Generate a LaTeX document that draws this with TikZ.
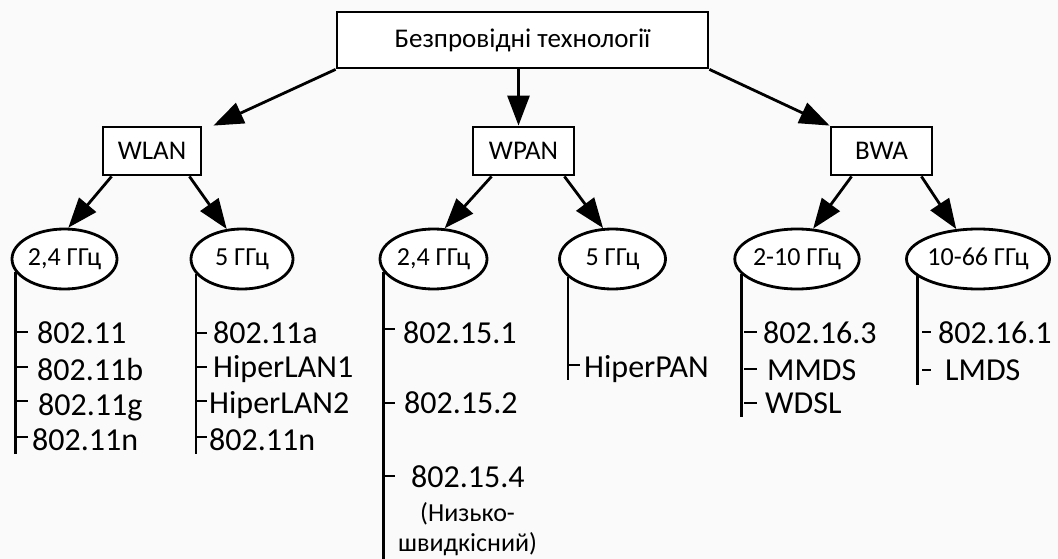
\documentclass[tikz,border=0pt]{standalone}
\usepackage{fontspec}
\setmainfont{Carlito}
\usetikzlibrary{arrows.meta,shapes.geometric}
\definecolor{bg}{RGB}{250,250,250}
\begin{document}
\begin{tikzpicture}[x=1pt,y=-1pt,
  every node/.style={inner sep=0pt},
  box/.style={draw, rectangle, fill=white, line width=2.8pt, minimum height=48pt, font=\fontsize{27}{32}\selectfont},
  freq/.style={draw, ellipse, fill=white, line width=2.8pt, minimum height=60pt, font=\fontsize{26}{31}\selectfont},
  conn/.style={line width=2.8pt, -{Triangle[length=30pt,width=22pt]}},
  trunk/.style={line width=2.8pt},
  tick/.style={line width=2.8pt},
  lbl/.style={anchor=base west, font=\fontsize{32}{38}\selectfont},
  slbl/.style={anchor=base west, font=\fontsize{26}{31}\selectfont}]
\fill[bg] (0,0) rectangle (1058,559);
\useasboundingbox (0,0) rectangle (1058,559);

% boxes
\node[box, minimum width=371pt, minimum height=56pt] (top) at (522.5,40) {Безпровідні технології};
\node[box, minimum width=98pt] (wlan) at (152,151) {WLAN};
\node[box, minimum width=101pt] (wpan) at (523.5,151) {WPAN};
\node[box, minimum width=101pt] (bwa) at (881.5,151) {BWA};

% ellipses
\node[freq, minimum width=105pt] (e1) at (64.5,259) {2,4 ГГц};
\node[freq, minimum width=102pt] (e2) at (242,259) {5 ГГц};
\node[freq, minimum width=107pt] (e3) at (433.5,259) {2,4 ГГц};
\node[freq, minimum width=106pt] (e4) at (612.5,259) {5 ГГц};
\node[freq, minimum width=120pt] (e5) at (797,259) {2-10 ГГц};
\node[freq, minimum width=134pt] (e6) at (978,259) {10-66 ГГц};

% arrows
\draw[conn] (top.south west) -- ([xshift=11pt]wlan.north east);
\draw[conn] ([xshift=-4pt]top.south) -- ([xshift=-5pt]wpan.north);
\draw[conn] (top.south east) -- (bwa.north west);
\draw[conn] ([xshift=10pt]wlan.south west) -- (e1.83);
\draw[conn] ([xshift=-13pt]wlan.south east) -- (e2.117);
\draw[conn] ([xshift=20pt]wpan.south west) -- (e3.70);
\draw[conn] ([xshift=-11pt]wpan.south east) -- (e4.107);
\draw[conn] ([xshift=22pt]bwa.south west) -- (e5.62);
\draw[conn] ([xshift=-12pt]bwa.south east) -- (e6.126);

% trunks
\draw[trunk] (e1.195) -- (e1.195 |- 0,454);
\draw[trunk] (e2.198) -- (e2.198 |- 0,454);
\draw[trunk] (e3.195) -- (e3.195 |- 0,559);
\draw[trunk] (e4.202) -- (e4.202 |- 0,380);
\draw[trunk] (e5.195) -- (e5.195 |- 0,417);
\draw[trunk] (e6.196) -- (e6.196 |- 0,385);

% ticks
\foreach \y in {332,367,401,437} \draw[tick] (17,\y) -- (28,\y);
\foreach \y in {333,367,401,437} \draw[tick] (197,\y) -- (207,\y);
\foreach \y in {329,403,476} \draw[tick] (385,\y) -- (395,\y);
\foreach \y in {365} \draw[tick] (569,\y) -- (580,\y);
\foreach \y in {332,369,403} \draw[tick] (744,\y) -- (757,\y);
\foreach \y in {332,370} \draw[tick] (922,\y) -- (931,\y);

% labels
\node[lbl] (a1) at (37,343) {802.11};
\node[lbl] (a2) at (37,380) {802.11b};
\node[lbl] (a3) at (38,415) {802.11g};
\node[lbl] (a4) at (32,450) {802.11n};

\node[lbl] (b1) at (213,343) {802.11a};
\node[lbl] (b2) at (213,377) {HiperLAN1};
\node[lbl] (b3) at (209,413) {HiperLAN2};
\node[lbl] (b4) at (209,450) {802.11n};

\node[lbl] (c1) at (403,343) {802.15.1};
\node[lbl] (c2) at (404,413) {802.15.2};
\node[lbl] (c3) at (411,487) {802.15.4};
\node[slbl] (c4) at (420,521) {(Низько-};
\node[slbl] (c5) at (398,551) {швидкісний)};

\node[lbl] (d1) at (584,377) {HiperPAN};

\node[lbl] (f1) at (763,343) {802.16.3};
\node[lbl] (f2) at (767,380) {MMDS};
\node[lbl] (f3) at (765,413) {WDSL};

\node[lbl] (g1) at (938,343) {802.16.1};
\node[lbl] (g2) at (945,380) {LMDS};
\end{tikzpicture}
\end{document}
